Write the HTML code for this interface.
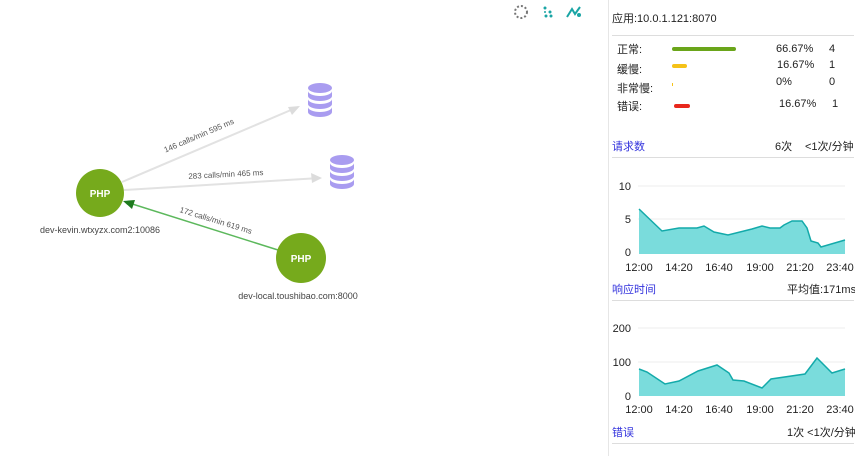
<!DOCTYPE html>
<html><head><meta charset="utf-8"><style>
body{margin:0;width:866px;height:456px;background:#fff;overflow:hidden;font-family:"Liberation Sans","Noto Sans CJK SC",sans-serif;}
svg{position:absolute;left:0;top:0}
</style></head><body>
<svg width="866" height="456" viewBox="0 0 866 456" font-family="Liberation Sans, Noto Sans CJK SC, sans-serif">
<defs>
<g id="db"><ellipse cx="0" cy="-12" rx="12" ry="5" fill="#a99cf0"/><path d="M-12,-9 a12,5 0 0 0 24,0 v5 a12,5 0 0 1 -24,0z M-12,-1 a12,5 0 0 0 24,0 v5 a12,5 0 0 1 -24,0z M-12,7 a12,5 0 0 0 24,0 v5 a12,5 0 0 1 -24,0z" fill="#a99cf0"/></g>
</defs>
<!-- toolbar icons -->
<circle cx="521" cy="12" r="6" fill="none" stroke="#777" stroke-width="2" stroke-dasharray="2 2"/>
<g fill="#1aa5a5"><circle cx="545" cy="8" r="1.5"/><circle cx="550" cy="12" r="1.5"/><circle cx="546" cy="16" r="1.5"/><circle cx="551" cy="16" r="1.5"/><circle cx="545" cy="12" r="1"/></g>
<path d="M567,17 L572,9 L575,14 L580,7" stroke="#1aa5a5" stroke-width="2" fill="none"/><circle cx="579" cy="15" r="2" fill="#1aa5a5"/>
<!-- edges -->
<line x1="122" y1="182" x2="298" y2="107" stroke="#e2e2e2" stroke-width="2"/>
<polygon points="300,106 288,107 292,115" fill="#dcdcdc"/>
<line x1="124" y1="190" x2="320" y2="178" stroke="#e2e2e2" stroke-width="2"/>
<polygon points="322,178 311,173 312,183" fill="#dcdcdc"/>
<line x1="278" y1="250" x2="126" y2="202" stroke="#5cb85c" stroke-width="1.5"/>
<polygon points="123,201 135,200 132,209" fill="#1e7a1e"/>
<text x="200" y="138" font-size="8" fill="#555" transform="rotate(-23 200 138)" text-anchor="middle">146 calls/min   595 ms</text>
<text x="226" y="177" font-size="8" fill="#555" transform="rotate(-3 226 177)" text-anchor="middle">283 calls/min   465  ms</text>
<text x="215" y="223" font-size="8" fill="#555" transform="rotate(17 215 223)" text-anchor="middle">172 calls/min   619 ms</text>
<use href="#db" x="320" y="100"/>
<use href="#db" x="342" y="172"/>
<circle cx="100" cy="193" r="24" fill="#76aa1c"/>
<text x="100" y="197" font-size="10" font-weight="bold" fill="#fff" text-anchor="middle">PHP</text>
<text x="100" y="233" font-size="9" fill="#444" text-anchor="middle">dev-kevin.wtxyzx.com2:10086</text>
<circle cx="301" cy="258" r="25" fill="#76aa1c"/>
<text x="301" y="262" font-size="10" font-weight="bold" fill="#fff" text-anchor="middle">PHP</text>
<text x="298" y="299" font-size="9" fill="#444" text-anchor="middle">dev-local.toushibao.com:8000</text>
<!-- panel -->
<line x1="608.5" y1="0" x2="608.5" y2="456" stroke="#e6e6e6"/>
<g font-size="11" fill="#222">
<text x="612" y="22">应用:10.0.1.121:8070</text>
<line x1="612" y1="35.5" x2="854" y2="35.5" stroke="#ddd"/>
<text x="617" y="53">正常:</text><text x="617" y="73">缓慢:</text><text x="617" y="92">非常慢:</text><text x="617" y="110">错误:</text>
<rect x="672" y="47" width="64" height="4" rx="2" fill="#6aa51a"/>
<rect x="672" y="64" width="15" height="4" rx="2" fill="#f5c218"/>
<rect x="672" y="83" width="1" height="3" fill="#f5c218"/>
<rect x="674" y="104" width="16" height="4" rx="2" fill="#e8271c"/>
<text x="776" y="52">66.67%</text><text x="829" y="52">4</text>
<text x="777" y="68">16.67%</text><text x="829" y="68">1</text>
<text x="776" y="85">0%</text><text x="829" y="85">0</text>
<text x="779" y="107">16.67%</text><text x="832" y="107">1</text>
<text x="612" y="150" fill="#3333dd">请求数</text>
<text x="775" y="150">6次</text><text x="805" y="150">&lt;1次/分钟</text>
<line x1="612" y1="157.5" x2="854" y2="157.5" stroke="#ddd"/>
<text x="612" y="293" fill="#3333dd">响应时间</text>
<text x="787" y="293">平均值:171ms</text>
<line x1="612" y1="300.5" x2="854" y2="300.5" stroke="#ddd"/>
<text x="612" y="436" fill="#3333dd">错误</text>
<text x="787" y="436">1次 &lt;1次/分钟</text>
<line x1="612" y1="443.5" x2="854" y2="443.5" stroke="#ddd"/>
</g>
<!-- chart 1 -->
<g stroke="#eee"><line x1="638" y1="186" x2="845" y2="186"/><line x1="638" y1="219" x2="845" y2="219"/></g>
<polygon points="639,254 639,209 662,231 679,228 697,228 704,226 714,232 728,235 752,229 762,226 770,228 780,228 784,225 792,221 802,221 807,228 811,241 818,243 821,247 845,240 845,254" fill="#7adcdc"/>
<polyline points="639,209 662,231 679,228 697,228 704,226 714,232 728,235 752,229 762,226 770,228 780,228 784,225 792,221 802,221 807,228 811,241 818,243 821,247 845,240" fill="none" stroke="#13aaaa" stroke-width="1.5"/>
<g font-size="11" fill="#222" text-anchor="end"><text x="631" y="190">10</text><text x="631" y="223">5</text><text x="631" y="256">0</text>
<text x="631" y="332">200</text><text x="631" y="366">100</text><text x="631" y="400">0</text></g>
<g font-size="11" fill="#222" text-anchor="middle">
<text x="639" y="271">12:00</text><text x="679" y="271">14:20</text><text x="719" y="271">16:40</text><text x="760" y="271">19:00</text><text x="800" y="271">21:20</text><text x="840" y="271">23:40</text>
<text x="639" y="413">12:00</text><text x="679" y="413">14:20</text><text x="719" y="413">16:40</text><text x="760" y="413">19:00</text><text x="800" y="413">21:20</text><text x="840" y="413">23:40</text></g>
<!-- chart 2 -->
<g stroke="#eee"><line x1="638" y1="328" x2="845" y2="328"/><line x1="638" y1="362" x2="845" y2="362"/></g>
<polygon points="639,396 639,369 647,372 665,384 679,381 698,371 717,365 729,373 733,380 744,381 762,388 771,379 805,374 817,358 832,373 845,369 845,396" fill="#7adcdc"/>
<polyline points="639,369 647,372 665,384 679,381 698,371 717,365 729,373 733,380 744,381 762,388 771,379 805,374 817,358 832,373 845,369" fill="none" stroke="#13aaaa" stroke-width="1.5"/>
<rect x="855" y="0" width="11" height="456" fill="#fff"/>
</svg>
</body></html>
